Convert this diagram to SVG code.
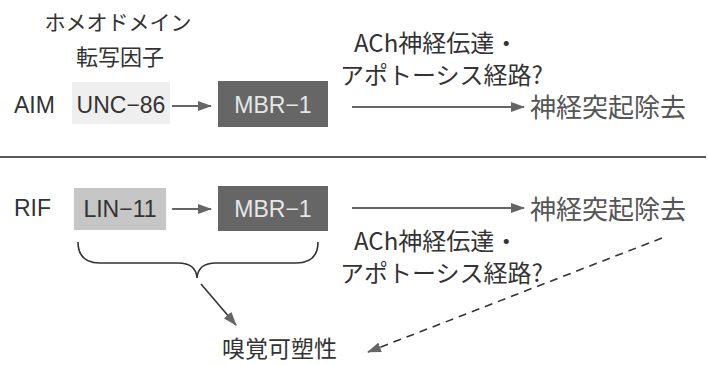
<svg xmlns="http://www.w3.org/2000/svg" width="708" height="365" viewBox="0 0 708 365">
<style>
text{font-family:"Liberation Sans","Noto Sans CJK JP",sans-serif;fill:#333}
.jp{font-family:"Noto Sans CJK JP","Liberation Sans",sans-serif}
.lab{font-size:23px}
.grey{fill:#555}
.con{stroke:#333;stroke-width:1.6;fill:none}
</style>
<defs>
<marker id="ah" viewBox="0 0 14 10" refX="13" refY="5" markerWidth="14" markerHeight="10" markerUnits="userSpaceOnUse" orient="auto">
<path d="M0,0 L14,5 L0,10 Z" fill="#666"/>
</marker>
</defs>
<rect width="708" height="365" fill="#fff"/>
<g id="header">
<text class="jp" x="118" y="30" font-size="21" text-anchor="middle">ホメオドメイン</text>
<text class="jp" x="120" y="65" font-size="22" text-anchor="middle">転写因子</text>
</g>
<g id="aim-label"><text x="14" y="113" font-size="23">AIM</text></g>
<g id="unc86">
<rect x="72" y="82" width="98" height="42" fill="#efefef"/>
<text x="121" y="113" class="lab" text-anchor="middle" fill="#444">UNC−86</text>
</g>
<g id="mbr1-aim">
<rect x="218" y="81" width="110" height="46" fill="#666"/>
<text x="273" y="113" class="lab" text-anchor="middle" style="fill:#e6e6e6">MBR−1</text>
</g>
<g id="ach-aim">
<text class="jp" x="354" y="52" font-size="24">ACh神経伝達・</text>
<text class="jp" x="340" y="84" font-size="24">アポトーシス経路?</text>
</g>
<g id="neurite-aim"><text class="jp grey" x="530" y="117" font-size="26">神経突起除去</text></g>
<g id="divider"><line x1="0" y1="157" x2="706" y2="157" stroke="#222" stroke-width="1.6"/></g>
<g id="rif-label"><text x="14" y="216" font-size="23">RIF</text></g>
<g id="lin11">
<rect x="74" y="188" width="92" height="42" fill="#c6c6c6"/>
<text x="120" y="217" class="lab" text-anchor="middle" fill="#555">LIN−11</text>
</g>
<g id="mbr1-rif">
<rect x="218" y="186" width="110" height="45" fill="#666"/>
<text x="273" y="217" class="lab" text-anchor="middle" style="fill:#e6e6e6">MBR−1</text>
</g>
<g id="neurite-rif"><text class="jp grey" x="530" y="219" font-size="26">神経突起除去</text></g>
<g id="ach-rif">
<text class="jp" x="354" y="250" font-size="24">ACh神経伝達・</text>
<text class="jp" x="340" y="282" font-size="24">アポトーシス経路?</text>
</g>
<g id="olfactory"><text class="jp" x="222" y="357" font-size="23">嗅覚可塑性</text></g>
<g id="connectors">
<line class="con" x1="172" y1="106" x2="211" y2="106" marker-end="url(#ah)"/>
<line class="con" x1="352" y1="107" x2="524" y2="107" marker-end="url(#ah)"/>
<line class="con" x1="172" y1="209" x2="211" y2="209" marker-end="url(#ah)"/>
<line class="con" x1="352" y1="208" x2="524" y2="208" marker-end="url(#ah)"/>
<path class="con" d="M78,242 Q78,263 100,263 L178,263 Q196,263 197,278 Q198,263 216,263 L296,263 Q318,263 318,242"/>
<line class="con" x1="201" y1="284" x2="236" y2="325" marker-end="url(#ah)"/>
<line class="con" x1="662" y1="238" x2="368" y2="352" stroke-dasharray="8,6" marker-end="url(#ah)"/>
</g>
</svg>
